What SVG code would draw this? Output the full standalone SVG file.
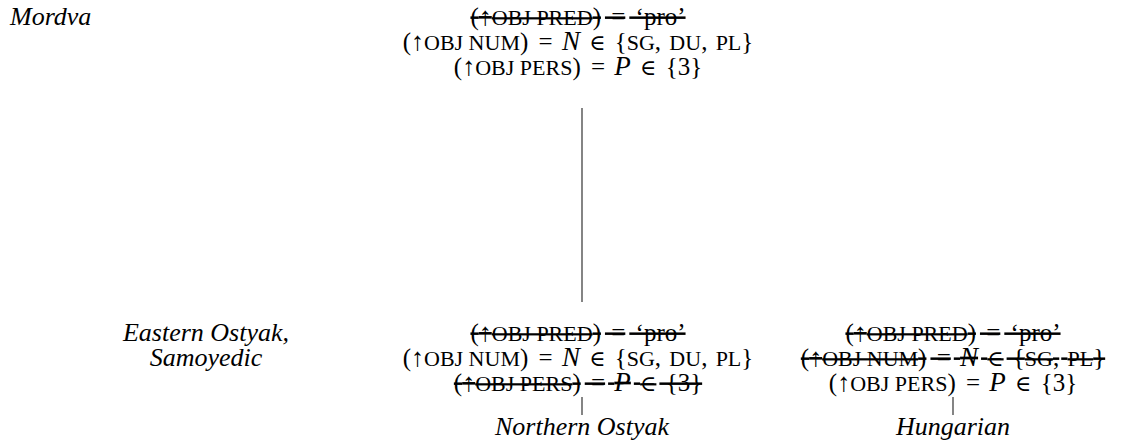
<svg xmlns="http://www.w3.org/2000/svg" width="1122" height="443" viewBox="0 0 1122 443">
<style>
text { font-family: "Liberation Serif", "DejaVu Serif", serif; font-size: 25px; fill: #000; }
.lbl { font-style: italic; font-size: 26px; }
.sc { font-size: 22px; }
.ar { font-size: 26px; }
.mi { font-style: italic; font-size: 27px; }
.el { font-family: "DejaVu Serif", serif; font-size: 22px; }
.st { text-decoration: line-through; }
.blk { text-anchor: middle; }
.edge { stroke: #333; stroke-width: 1.2; fill: none; }
</style>
<rect width="1122" height="443" fill="#fff"/>
<g id="label-mordva"><text class="lbl" x="10" y="25">Mordva</text></g>
<g id="label-eastern"><text class="lbl blk" x="206" y="341">Eastern Ostyak,</text><text class="lbl blk" x="206" y="366">Samoyedic</text></g>
<g id="node-top">
<text class="blk st" x="578" y="25">(<tspan class="ar">↑</tspan><tspan class="sc">OBJ PRED</tspan>)<tspan dx="4"> =</tspan><tspan dx="4"> ‘pro’</tspan></text>
<text class="blk" x="578" y="50">(<tspan class="ar">↑</tspan><tspan class="sc">OBJ NUM</tspan>)<tspan dx="4"> =</tspan><tspan dx="3"> </tspan><tspan class="mi">N</tspan><tspan dx="3"> </tspan><tspan class="el">∈</tspan><tspan dx="3"> {</tspan><tspan class="sc">SG</tspan>,<tspan dx="2"> </tspan><tspan class="sc">DU</tspan>,<tspan dx="2"> </tspan><tspan class="sc">PL</tspan>}</text>
<text class="blk" x="578" y="75">(<tspan class="ar">↑</tspan><tspan class="sc">OBJ PERS</tspan>)<tspan dx="4"> =</tspan><tspan dx="3"> </tspan><tspan class="mi">P</tspan><tspan dx="3"> </tspan><tspan class="el">∈</tspan><tspan dx="3"> {3}</tspan></text>
</g>
<g id="node-mid">
<text class="blk st" x="578" y="341">(<tspan class="ar">↑</tspan><tspan class="sc">OBJ PRED</tspan>)<tspan dx="4"> =</tspan><tspan dx="4"> ‘pro’</tspan></text>
<text class="blk" x="578" y="366">(<tspan class="ar">↑</tspan><tspan class="sc">OBJ NUM</tspan>)<tspan dx="4"> =</tspan><tspan dx="3"> </tspan><tspan class="mi">N</tspan><tspan dx="3"> </tspan><tspan class="el">∈</tspan><tspan dx="3"> {</tspan><tspan class="sc">SG</tspan>,<tspan dx="2"> </tspan><tspan class="sc">DU</tspan>,<tspan dx="2"> </tspan><tspan class="sc">PL</tspan>}</text>
<text class="blk st" x="578" y="391">(<tspan class="ar">↑</tspan><tspan class="sc">OBJ PERS</tspan>)<tspan dx="4"> =</tspan><tspan dx="3"> </tspan><tspan class="mi">P</tspan><tspan dx="3"> </tspan><tspan class="el">∈</tspan><tspan dx="3"> {3}</tspan></text>
</g>
<g id="node-right">
<text class="blk st" x="953" y="341">(<tspan class="ar">↑</tspan><tspan class="sc">OBJ PRED</tspan>)<tspan dx="4"> =</tspan><tspan dx="4"> ‘pro’</tspan></text>
<text class="blk st" x="953" y="366">(<tspan class="ar">↑</tspan><tspan class="sc">OBJ NUM</tspan>)<tspan dx="4"> =</tspan><tspan dx="3"> </tspan><tspan class="mi">N</tspan><tspan dx="3"> </tspan><tspan class="el">∈</tspan><tspan dx="3"> {</tspan><tspan class="sc">SG</tspan>,<tspan dx="2"> </tspan><tspan class="sc">PL</tspan>}</text>
<text class="blk" x="953" y="391">(<tspan class="ar">↑</tspan><tspan class="sc">OBJ PERS</tspan>)<tspan dx="4"> =</tspan><tspan dx="3"> </tspan><tspan class="mi">P</tspan><tspan dx="3"> </tspan><tspan class="el">∈</tspan><tspan dx="3"> {3}</tspan></text>
</g>
<g id="node-northern"><text class="lbl blk" x="582" y="435">Northern Ostyak</text></g>
<g id="node-hungarian"><text class="lbl blk" x="953" y="435">Hungarian</text></g>
<g id="connectors">
<line class="edge" x1="582" y1="108" x2="582" y2="302"/>
<line class="edge" x1="582" y1="397" x2="582" y2="415"/>
<line class="edge" x1="953" y1="397" x2="953" y2="415"/>
</g>
</svg>
